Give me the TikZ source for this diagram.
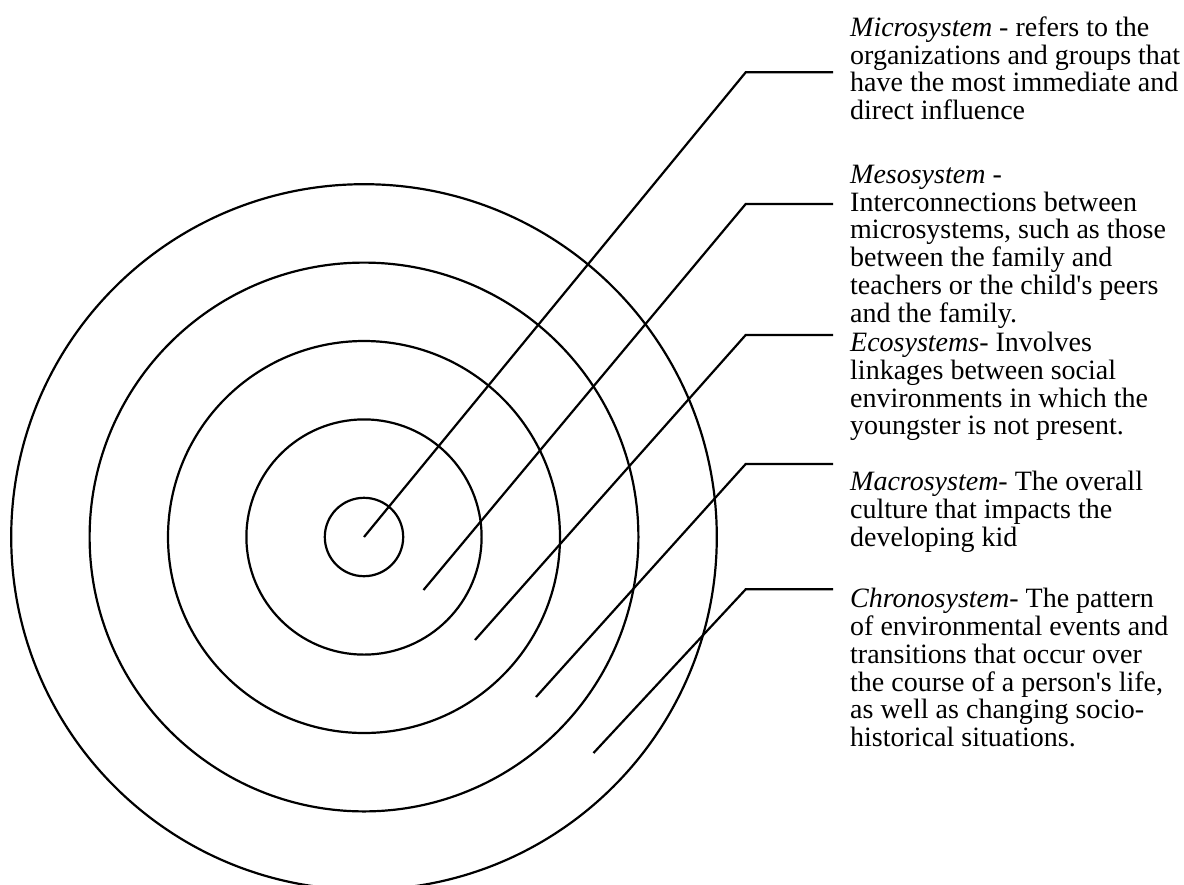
\documentclass[tikz,border=0pt]{standalone}
\usepackage{fontspec}
\newfontfamily\labelfont{Liberation Serif}
\begin{document}
\begin{tikzpicture}[x=1pt,y=-1pt,
  ring/.style={draw=black, line width=2.2pt},
  leader/.style={draw=black, line width=2.2pt, line join=miter},
  desc/.style={anchor=base west, inner sep=0pt,
    font=\labelfont\fontsize{28}{27.6}\selectfont}]
\useasboundingbox (0,0) rectangle (1184,884);
\clip (0,0) rectangle (1184,884);

% concentric system rings
\coordinate (c) at (364,537);
\foreach \r in {39.2,117.6,196,274.4,352.8}
  \draw[ring] (c) circle[radius=\r pt];

% leader lines: inner end, elbow, outer end
\coordinate (e1) at (364,537);     \coordinate (k1) at (745.7,72.3);  \coordinate (h1) at (833,72.3);
\coordinate (e2) at (423.5,590);   \coordinate (k2) at (745.7,204);   \coordinate (h2) at (833,204);
\coordinate (e3) at (475,640);     \coordinate (k3) at (745.7,335);   \coordinate (h3) at (833,335);
\coordinate (e4) at (536,697);     \coordinate (k4) at (745.7,464);   \coordinate (h4) at (833,464);
\coordinate (e5) at (593.5,753);   \coordinate (k5) at (745.7,589.3); \coordinate (h5) at (833,589.3);
\foreach \i in {1,...,5}
  \draw[leader] (e\i) -- (k\i) -- (h\i);

% descriptions
\node[desc] (t1) at (850,36.5) {\begin{tabular}[t]{@{}l@{}}
  \textit{Microsystem} - refers to the\\
  organizations and groups that\\
  have the most immediate and\\
  direct influence\end{tabular}};
\node[desc] (t2) at (850,183.5) {\begin{tabular}[t]{@{}l@{}}
  \textit{Mesosystem} -\\
  Interconnections between\\
  microsystems, such as those\\
  between the family and\\
  teachers or the child's peers\\
  and the family.\end{tabular}};
\node[desc] (t3) at (850,351.7) {\begin{tabular}[t]{@{}l@{}}
  \textit{Ecosystems}- Involves\\
  linkages between social\\
  environments in which the\\
  youngster is not present.\end{tabular}};
\node[desc] (t4) at (850,490.7) {\begin{tabular}[t]{@{}l@{}}
  \textit{Macrosystem}- The overall\\
  culture that impacts the\\
  developing kid\end{tabular}};
\node[desc] (t5) at (850,607.3) {\begin{tabular}[t]{@{}l@{}}
  \textit{Chronosystem}- The pattern\\
  of environmental events and\\
  transitions that occur over\\
  the course of a person's life,\\
  as well as changing socio-\\
  historical situations.\end{tabular}};
\end{tikzpicture}
\end{document}
